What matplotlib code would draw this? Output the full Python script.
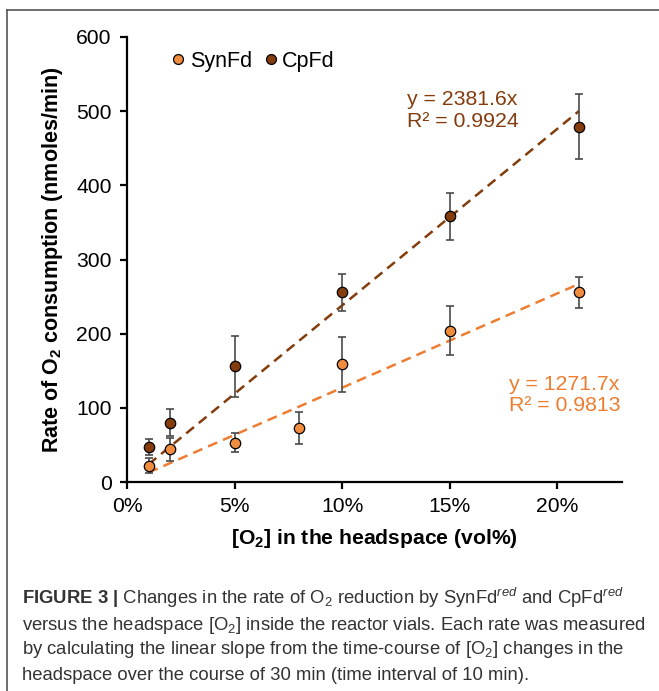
import matplotlib
matplotlib.use("Agg")
import matplotlib.pyplot as plt
from matplotlib import font_manager
from matplotlib.lines import Line2D

# O2 in headspace (fraction) and rates (nmoles/min) with error
o2_syn = [0.01, 0.02, 0.05, 0.08, 0.10, 0.15, 0.21]
rate_syn = [22, 44, 53, 73, 159, 204, 256]
err_syn = [10, 16, 13, 22, 37, 33, 21]

o2_cp = [0.01, 0.02, 0.05, 0.10, 0.15, 0.21]
rate_cp = [47, 80, 156, 256, 358, 479]
err_cp = [11, 18, 41, 25, 32, 44]

slope_syn, r2_syn = 1271.7, 0.9813
slope_cp, r2_cp = 2381.6, 0.9924
fit_range = [0.01, 0.21]

x_ticks = [0, 0.05, 0.10, 0.15, 0.20]
x_ticklabels = ["0%", "5%", "10%", "15%", "20%"]
y_ticks = [0, 100, 200, 300, 400, 500, 600]

C_SYN = "#ED7D31"
C_SYN_MK = "#F08C3E"
C_CP = "#843C0C"

names = {f.name for f in font_manager.fontManager.ttflist}
narrow = "Liberation Sans Narrow" if "Liberation Sans Narrow" in names else "Liberation Sans"

plt.rcParams["font.family"] = ["Liberation Sans", "DejaVu Sans"]
plt.rcParams["mathtext.fontset"] = "custom"
plt.rcParams["mathtext.rm"] = "Liberation Sans"
plt.rcParams["mathtext.it"] = narrow + ":italic"
plt.rcParams["mathtext.bf"] = "Liberation Sans:bold"

fig = plt.figure(figsize=(6.59, 6.91), dpi=100)
ax = fig.add_axes([127 / 659, 1 - 482 / 691, 495 / 659, 445 / 691])

ax.errorbar(o2_syn, rate_syn, yerr=err_syn, fmt="none", ecolor="#4a4a4a",
            elinewidth=1.2, capsize=3, capthick=1.2, zorder=2)
ax.errorbar(o2_cp, rate_cp, yerr=err_cp, fmt="none", ecolor="#4a4a4a",
            elinewidth=1.2, capsize=3, capthick=1.2, zorder=2)

ax.plot(fit_range, [slope_syn * v for v in fit_range], color=C_SYN, lw=1.8,
        dashes=(4, 2.5), zorder=1)
ax.plot(fit_range, [slope_cp * v for v in fit_range], color=C_CP, lw=1.8,
        dashes=(4, 2.5), zorder=1)

ax.plot(o2_syn, rate_syn, "o", ms=7.5, mfc=C_SYN_MK, mec="black", mew=0.9,
        zorder=3, label="SynFd")
ax.plot(o2_cp, rate_cp, "o", ms=7.5, mfc=C_CP, mec="black", mew=0.9,
        zorder=3, label="CpFd")

ax.set_xlim(0, 0.23)
ax.set_ylim(0, 600)
ax.set_xticks(x_ticks)
ax.set_xticklabels(x_ticklabels)
ax.set_yticks(y_ticks)
for s in ["top", "right"]:
    ax.spines[s].set_visible(False)
for s in ["left", "bottom"]:
    ax.spines[s].set_linewidth(1.6)
ax.tick_params(axis="both", direction="out", length=5, width=1.6,
               labelsize=15.2, pad=6)

ax.set_ylabel(r"Rate of O$_\mathbf{2}$ consumption (nmoles/min)",
              fontsize=15.5, fontweight="bold", labelpad=8)
ax.set_xlabel(r"[O$_\mathbf{2}$] in the headspace (vol%)",
              fontsize=15.2, fontweight="bold", labelpad=8)

leg = ax.legend(loc="center left", bbox_to_anchor=(0.07, 0.946), ncol=2,
                frameon=False, fontsize=15.5, handlelength=0.55,
                handletextpad=0.25, columnspacing=0.6, borderpad=0,
                markerscale=0.95)

ax.text(0.13, 501, f"y = {slope_cp}x\nR² = {r2_cp}", color=C_CP,
        fontsize=15.3, va="center", ha="left", linespacing=1.15)
ax.text(0.1775, 117, f"y = {slope_syn}x\nR² = {r2_syn}", color=C_SYN,
        fontsize=15.3, va="center", ha="left", linespacing=1.15)

# frame around the figure panel
fig.add_artist(Line2D([7 / 659, 7 / 659], [0, 1 - 10 / 691], color="#555555",
                      lw=1.2, transform=fig.transFigure))
fig.add_artist(Line2D([7 / 659, 1], [1 - 10 / 691, 1 - 10 / 691],
                      color="#555555", lw=1.2, transform=fig.transFigure))

caption = [
    r"$\mathbf{FIGURE\ 3\ |}$ Changes in the rate of O$_2$ reduction by SynFd$^{red}$ and CpFd$^{red}$",
    r"versus the headspace [O$_2$] inside the reactor vials. Each rate was measured",
    r"by calculating the linear slope from the time-course of [O$_2$] changes in the",
    r"headspace over the course of 30 min (time interval of 10 min).",
]
caption_y = [598, 625, 650, 675]
for line, yp in zip(caption, caption_y):
    fig.text(22 / 659, 1 - yp / 691, line, family=narrow, fontsize=13.3,
             color="#333333", va="center", ha="left")

fig.savefig("out.png", dpi=100)
